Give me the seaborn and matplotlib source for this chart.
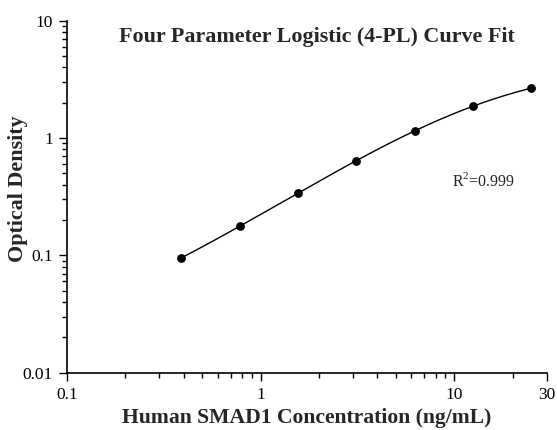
import numpy as np
import pandas as pd
import matplotlib
matplotlib.use("Agg")
import matplotlib.pyplot as plt
import seaborn as sns
from matplotlib.ticker import LogLocator, FixedLocator, NullFormatter

# ---- data ----
concentration = [0.39, 0.78, 1.56, 3.125, 6.25, 12.5, 25.0]
optical_density = [0.095, 0.179, 0.337, 0.641, 1.155, 1.875, 2.65]
x_ticks = [0.1, 1, 10, 30]
x_tick_labels = ["0.1", "1", "10", "30"]
y_ticks = [0.01, 0.1, 1, 10]
y_tick_labels = ["0.01", "0.1", "1", "10"]
title = "Four Parameter Logistic (4-PL) Curve Fit"
x_label = "Human SMAD1 Concentration (ng/mL)"
y_label = "Optical Density"
r2_text = "R$^2$=0.999"

x = np.array(concentration)
y = np.array(optical_density)

# ---- 4-PL fit: y = d + (a - d) / (1 + (x/c)^b); a,d solved linearly per (b,c) ----
best = None
for b in np.linspace(0.5, 2.5, 201):
    for c in np.logspace(0, 3, 301):
        g = 1.0 / (1.0 + (x / c) ** b)
        A = np.column_stack([g, 1 - g]) / y[:, None]
        sol, *_ = np.linalg.lstsq(A, np.ones_like(y), rcond=None)
        res = np.sum((A @ sol - 1) ** 2)
        if best is None or res < best[0]:
            best = (res, b, c, sol[0], sol[1])
_, b, c, a, d = best
xs = np.logspace(np.log10(x.min()), np.log10(x.max()), 300)
ys = d + (a - d) / (1 + (xs / c) ** b)
curve = pd.DataFrame({"x": xs, "y": ys})
points = pd.DataFrame({"x": x, "y": y})

sns.set_style("ticks")
plt.rcParams["font.family"] = ["Liberation Serif", "DejaVu Serif"]
plt.rcParams["mathtext.fontset"] = "custom"
plt.rcParams["mathtext.rm"] = "Liberation Serif"

fig = plt.figure(figsize=(5.57, 4.30), dpi=100)
ax = fig.add_axes([0.1203, 0.1333, 0.8612, 0.8186])

sns.lineplot(data=curve, x="x", y="y", ax=ax, color="black", linewidth=1.0)
sns.scatterplot(data=points, x="x", y="y", ax=ax, color="black", s=40,
                edgecolor="black", linewidth=0, zorder=3)

ax.set_xscale("log")
ax.set_yscale("log")
ax.set_xlim(0.1, 30)
ax.set_ylim(0.01, 10)

ax.xaxis.set_major_locator(FixedLocator(x_ticks))
ax.set_xticklabels(x_tick_labels)
ax.xaxis.set_minor_locator(LogLocator(base=10, subs=np.arange(2, 10)))
ax.xaxis.set_minor_formatter(NullFormatter())
ax.yaxis.set_major_locator(FixedLocator(y_ticks))
ax.set_yticklabels(y_tick_labels)
ax.yaxis.set_minor_locator(LogLocator(base=10, subs=np.arange(2, 10)))
ax.yaxis.set_minor_formatter(NullFormatter())

ax.tick_params(which="major", direction="out", length=6, width=1.0,
               labelsize=12.5, colors="black", pad=4)
ax.tick_params(which="minor", direction="out", length=3.5, width=1.0, colors="black")
for s in ["left", "bottom"]:
    ax.spines[s].set_linewidth(1.2)
    ax.spines[s].set_color("black")
sns.despine(ax=ax)

ax.set_xlabel("")
ax.set_ylabel("")
fig.text(307 / 557, 1 - 418 / 430, x_label, ha="center", va="center",
         fontsize=15.6, fontweight="bold")
fig.text(18 / 557, 1 - 189 / 430, y_label, ha="center", va="center",
         rotation=90, fontsize=15.8, fontweight="bold")
fig.text(317 / 557, 1 - 37 / 430, title, ha="center", va="center",
         fontsize=15.8, fontweight="bold")
fig.text(452 / 557, 1 - 181 / 430, r2_text, ha="left", va="center", fontsize=11.5)

fig.savefig("out.png", dpi=100)
